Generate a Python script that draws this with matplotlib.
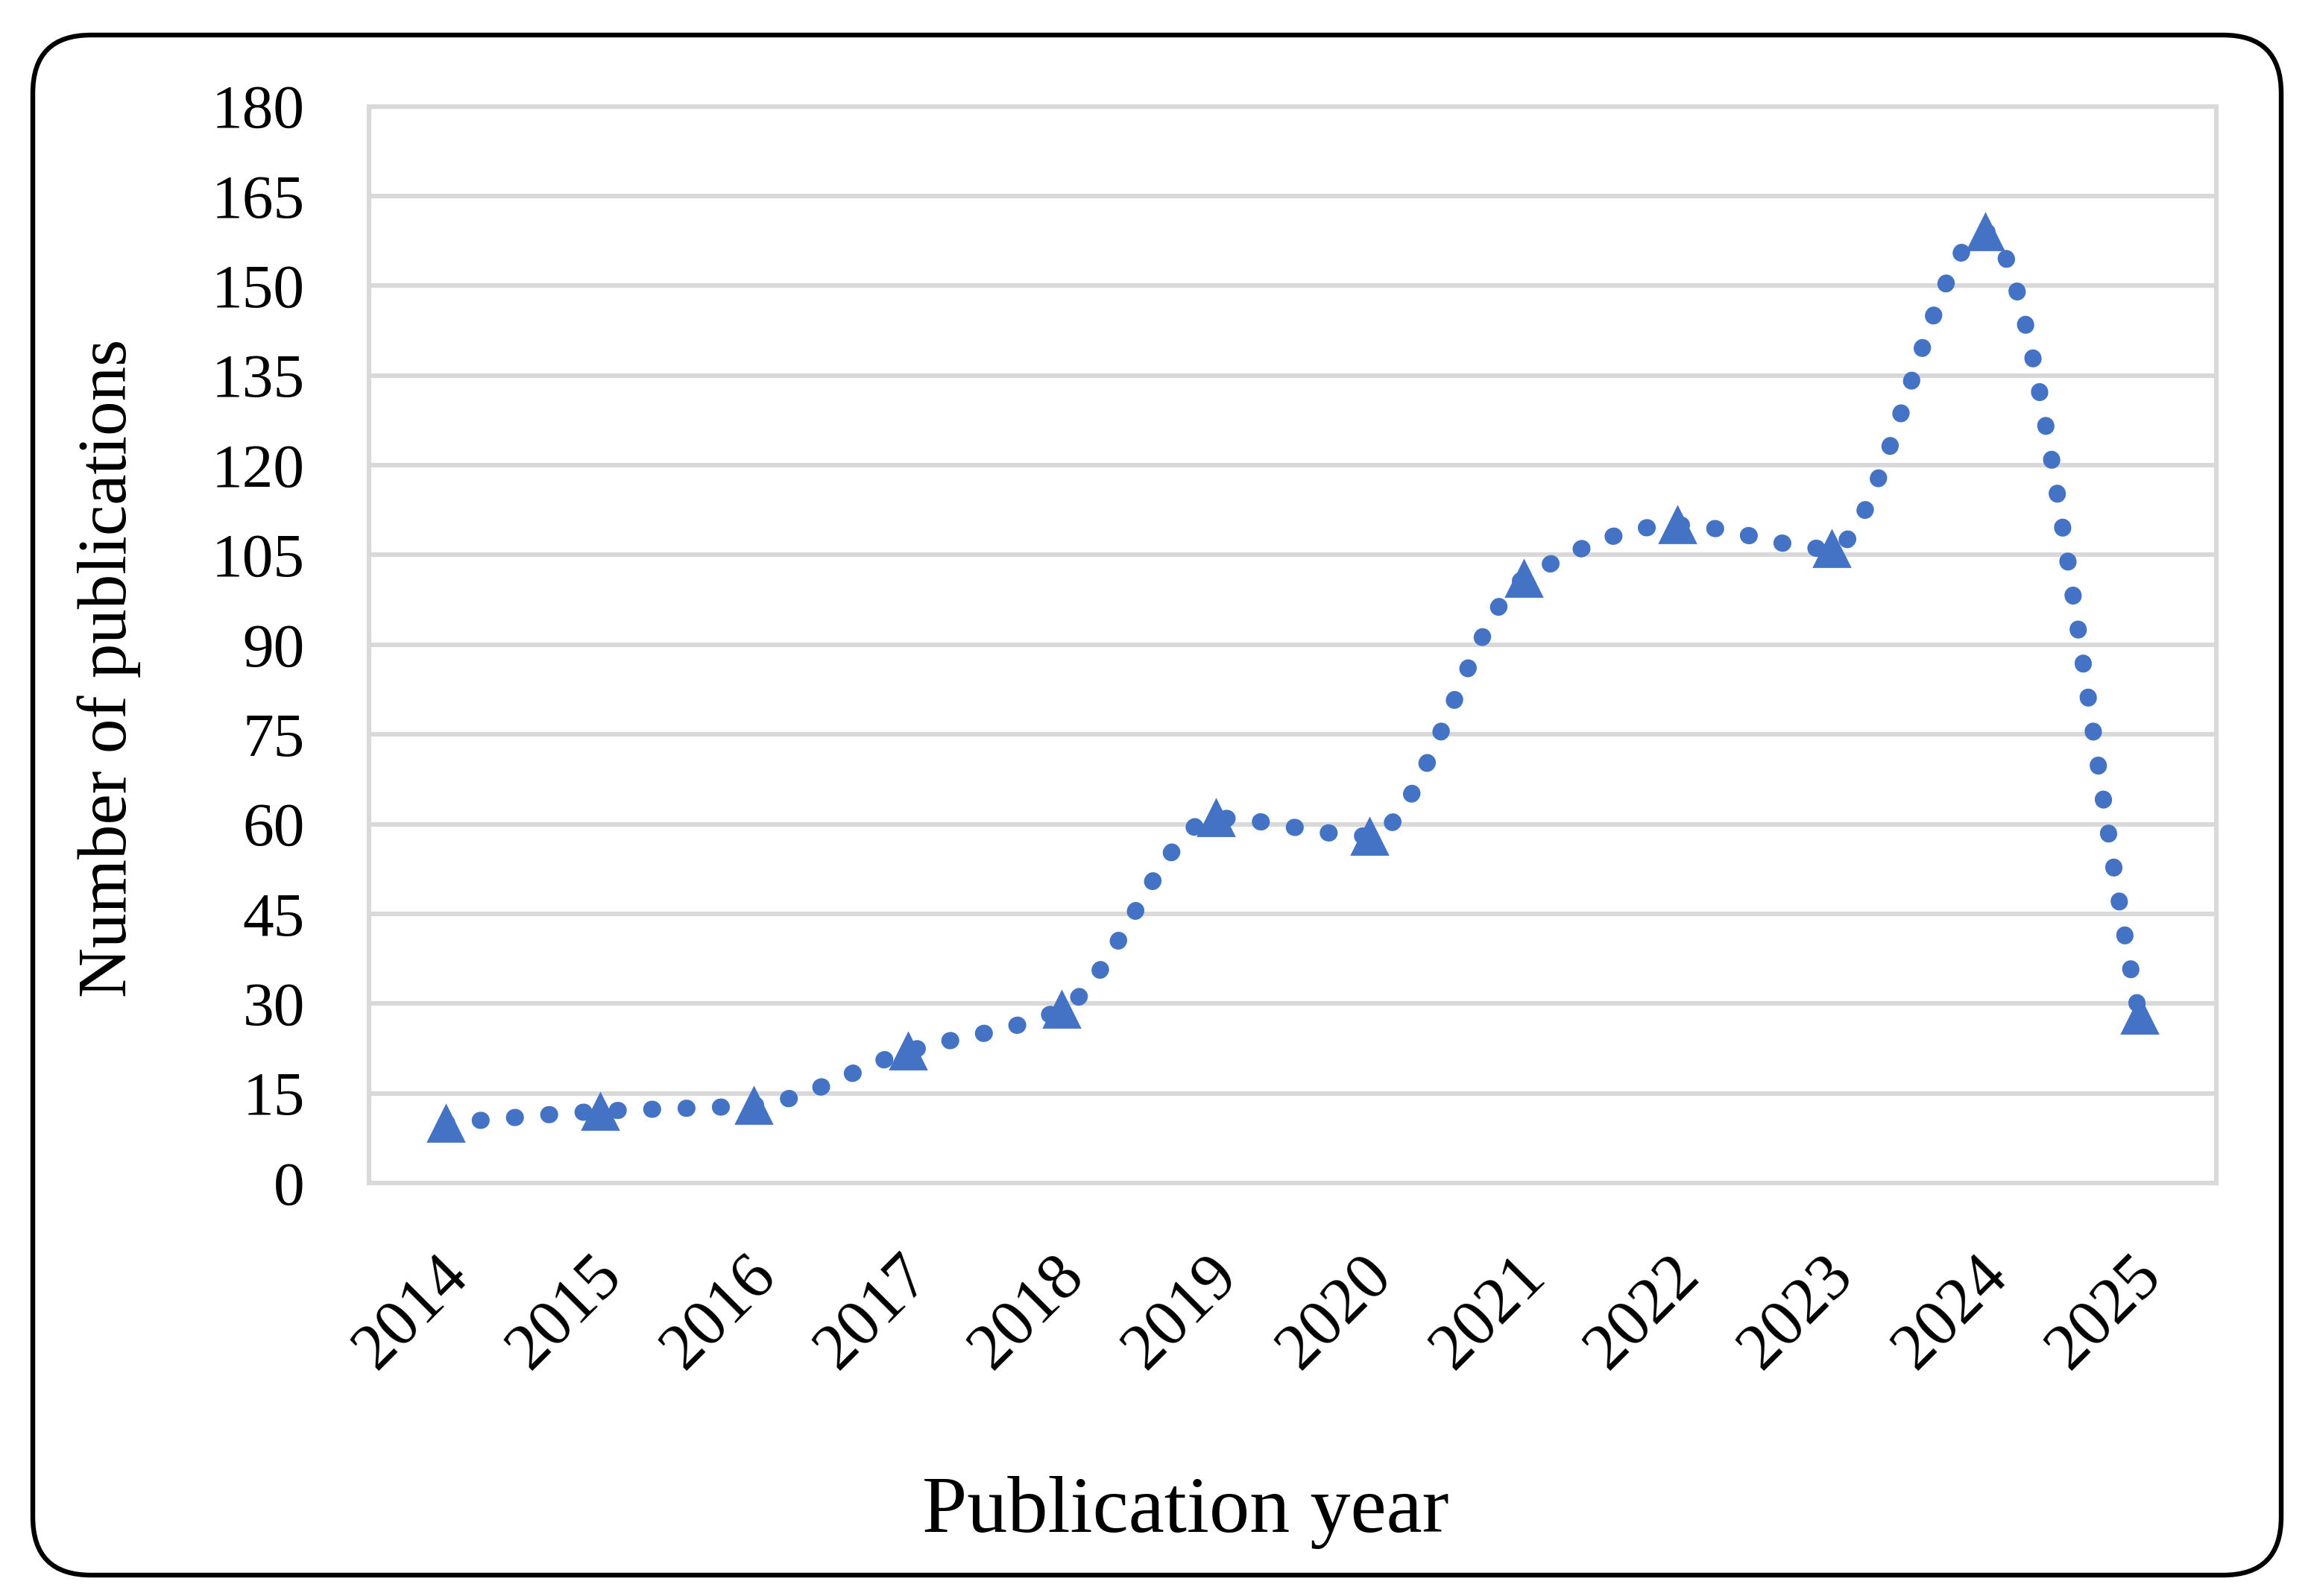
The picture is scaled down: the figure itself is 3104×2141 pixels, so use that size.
import numpy as np
import matplotlib
matplotlib.use("Agg")
from matplotlib import pyplot as plt
from matplotlib.patches import FancyBboxPatch

# Data
years = ["2014", "2015", "2016", "2017", "2018", "2019",
         "2020", "2021", "2022", "2023", "2024", "2025"]
publications = [10, 12, 13, 22, 29, 61, 58, 101, 110, 106, 159, 28]
y_ticks = [0, 15, 30, 45, 60, 75, 90, 105, 120, 135, 150, 165, 180]

blue = "#4472C4"
grid_grey = "#D9D9D9"
plt.rcParams["font.family"] = ["Liberation Serif", "DejaVu Serif"]


def smooth_curve(y, steps=60):
    # monotone cubic (Fritsch-Carlson) through the points, like a smoothed line
    y = np.asarray(y, dtype=float)
    n = len(y)
    d = np.diff(y)
    m = np.zeros(n)
    m[0], m[-1] = d[0], d[-1]
    for k in range(1, n - 1):
        if d[k - 1] * d[k] > 0:
            m[k] = 2 * d[k - 1] * d[k] / (d[k - 1] + d[k])
    xs, ys = [], []
    for k in range(n - 1):
        t = np.linspace(0, 1, steps, endpoint=(k == n - 2))
        h00 = 2 * t**3 - 3 * t**2 + 1
        h10 = t**3 - 2 * t**2 + t
        h01 = -2 * t**3 + 3 * t**2
        h11 = t**3 - t**2
        xs.append(k + t)
        ys.append(h00 * y[k] + h10 * m[k] + h01 * y[k + 1] + h11 * m[k + 1])
    return np.concatenate(xs), np.concatenate(ys)


W, H, DPI = 3104, 2141, 200
fig = plt.figure(figsize=(W / DPI, H / DPI), dpi=DPI)

# rounded outer frame
bg = fig.add_axes([0, 0, 1, 1], zorder=-1)
bg.set_xlim(0, W)
bg.set_ylim(0, H)
bg.axis("off")
frame = FancyBboxPatch((44, 28), 3016, 2066,
                       boxstyle="round,pad=0,rounding_size=78",
                       fill=False, edgecolor="black", linewidth=2.3)
bg.add_patch(frame)

ax = fig.add_axes([495 / W, 1 - 1587 / H, (2973 - 495) / W, (1587 - 142.5) / H])
x = np.arange(len(years))

cx, cy = smooth_curve(publications)
ax.plot(cx, cy, color=blue, linewidth=8.3, linestyle=(0, (0.05, 1.95)),
        dash_capstyle="round", solid_capstyle="round", zorder=3)
ax.plot(x, publications, linestyle="none", marker="^", markersize=17.5,
        color=blue, zorder=4)

ax.set_xlim(-0.5, len(years) - 0.5)
ax.set_ylim(0, 180)
ax.set_yticks(y_ticks)
ax.set_xticks(x)
ax.set_xticklabels(years, rotation=45, ha="right", va="center",
                   rotation_mode="anchor")
ax.tick_params(axis="both", length=0, labelsize=30)
ax.tick_params(axis="x", labelsize=32, pad=40)
ax.tick_params(axis="y", pad=31)
for lbl in ax.get_xticklabels():
    lbl.set_x(lbl.get_position()[0])
# nudge year labels a little to the right, as in the original
from matplotlib.transforms import ScaledTranslation
for lbl in ax.get_xticklabels():
    lbl.set_transform(lbl.get_transform() + ScaledTranslation(0.08, 0, fig.dpi_scale_trans))

ax.grid(axis="y", color=grid_grey, linewidth=2.2)
ax.set_axisbelow(True)
for s in ax.spines.values():
    s.set_color(grid_grey)
    s.set_linewidth(2.2)

fig.text(0.5125, 0.040, "Publication year", ha="center", va="baseline",
         fontsize=39)
fig.text(0.047, 0.5815, "Number of publications", ha="center", va="center",
         rotation=90, fontsize=33.5)

fig.savefig("out.png", dpi=DPI)
